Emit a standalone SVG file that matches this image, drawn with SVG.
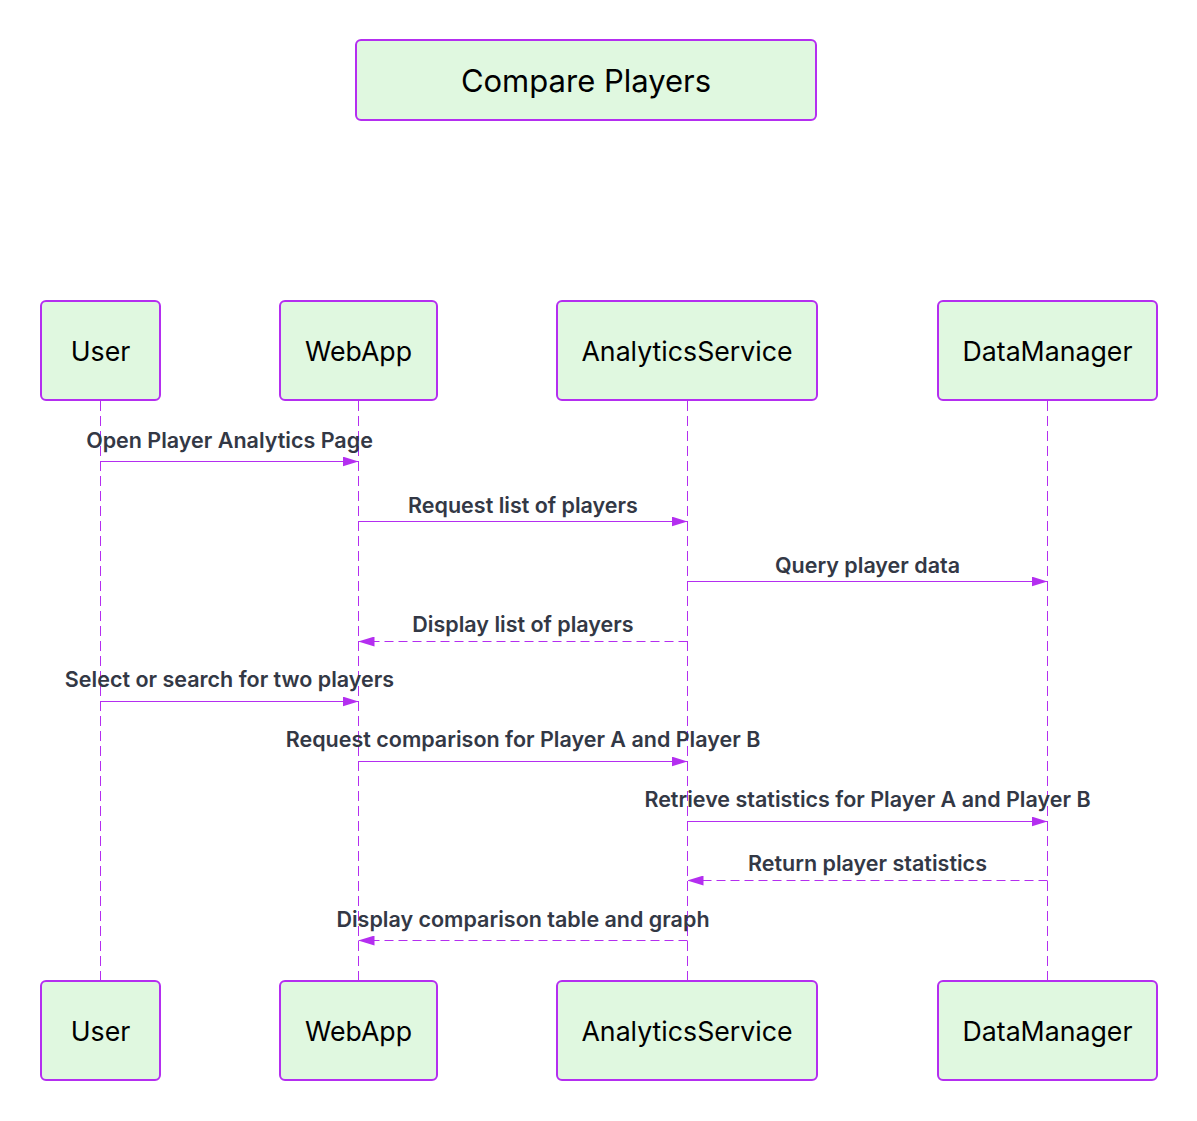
<svg xmlns="http://www.w3.org/2000/svg" width="1197" height="1121" viewBox="0 0 1197 1121">
<style>
.box{fill:#e0f8e0;stroke:#b42ef0;stroke-width:2}
.nt{font-family:Inter,"Liberation Sans",sans-serif;font-size:26.7px;fill:#000;text-anchor:middle;dominant-baseline:central}
.tt{font-family:Inter,"Liberation Sans",sans-serif;font-size:31px;fill:#000;text-anchor:middle;dominant-baseline:central}
.life{stroke:#b42ef0;stroke-width:1;stroke-dasharray:10 5;fill:none}
.msg{stroke:#b42ef0;stroke-width:1;fill:none}
.ret{stroke:#b42ef0;stroke-width:1;fill:none;stroke-dasharray:9 5}
.lbl{font-family:Inter,"Liberation Sans",sans-serif;font-size:21.5px;font-weight:600;fill:#333845;text-anchor:middle}
</style>
<defs>
<marker id="ah" viewBox="0 0 16 10" refX="16" refY="5" markerWidth="16" markerHeight="10" markerUnits="userSpaceOnUse" orient="auto">
<path d="M0,0 L16,5 L0,10 Z" fill="#b42ef0"/>
</marker>
</defs>
<rect width="1197" height="1121" fill="#fff"/>
<g id="title"><rect class="box" x="356" y="40" width="460" height="80" rx="5"/><text class="tt" x="586" y="80">Compare Players</text></g>
<g id="lifelines">
<line class="life" x1="100.5" y1="401" x2="100.5" y2="981"/>
<line class="life" x1="358.5" y1="401" x2="358.5" y2="981"/>
<line class="life" x1="687.5" y1="401" x2="687.5" y2="981"/>
<line class="life" x1="1047.5" y1="401" x2="1047.5" y2="981"/>
</g>
<g id="User"><rect class="box" x="41" y="301" width="119" height="99" rx="5"/><text class="nt" x="100.5" y="351">User</text></g>
<g id="WebApp"><rect class="box" x="280" y="301" width="157" height="99" rx="5"/><text class="nt" x="358.5" y="351">WebApp</text></g>
<g id="AnalyticsService"><rect class="box" x="557" y="301" width="260" height="99" rx="5"/><text class="nt" x="687" y="351">AnalyticsService</text></g>
<g id="DataManager"><rect class="box" x="938" y="301" width="219" height="99" rx="5"/><text class="nt" x="1047.5" y="351">DataManager</text></g>
<g id="User-bottom"><rect class="box" x="41" y="981" width="119" height="99" rx="5"/><text class="nt" x="100.5" y="1031">User</text></g>
<g id="WebApp-bottom"><rect class="box" x="280" y="981" width="157" height="99" rx="5"/><text class="nt" x="358.5" y="1031">WebApp</text></g>
<g id="AnalyticsService-bottom"><rect class="box" x="557" y="981" width="260" height="99" rx="5"/><text class="nt" x="687" y="1031">AnalyticsService</text></g>
<g id="DataManager-bottom"><rect class="box" x="938" y="981" width="219" height="99" rx="5"/><text class="nt" x="1047.5" y="1031">DataManager</text></g>
<g id="connectors">
<line class="msg" x1="100.5" y1="461.5" x2="358.5" y2="461.5" marker-end="url(#ah)"/>
<text class="lbl" x="229.5" y="448">Open Player Analytics Page</text>
<line class="msg" x1="358.5" y1="521.5" x2="687.5" y2="521.5" marker-end="url(#ah)"/>
<text class="lbl" x="523" y="513">Request list of players</text>
<line class="msg" x1="687.5" y1="581.5" x2="1047.5" y2="581.5" marker-end="url(#ah)"/>
<text class="lbl" x="867.5" y="573">Query player data</text>
<line class="ret" x1="687.5" y1="641.5" x2="358.5" y2="641.5" marker-end="url(#ah)"/>
<text class="lbl" x="523" y="632">Display list of players</text>
<line class="msg" x1="100.5" y1="701.5" x2="358.5" y2="701.5" marker-end="url(#ah)"/>
<text class="lbl" x="229.5" y="687">Select or search for two players</text>
<line class="msg" x1="358.5" y1="761.5" x2="687.5" y2="761.5" marker-end="url(#ah)"/>
<text class="lbl" x="523" y="747">Request comparison for Player A and Player B</text>
<line class="msg" x1="687.5" y1="821.5" x2="1047.5" y2="821.5" marker-end="url(#ah)"/>
<text class="lbl" x="867.5" y="807">Retrieve statistics for Player A and Player B</text>
<line class="ret" x1="1047.5" y1="880.5" x2="687.5" y2="880.5" marker-end="url(#ah)"/>
<text class="lbl" x="867.5" y="871">Return player statistics</text>
<line class="ret" x1="687.5" y1="940.5" x2="358.5" y2="940.5" marker-end="url(#ah)"/>
<text class="lbl" x="523" y="927">Display comparison table and graph</text>
</g>
</svg>
